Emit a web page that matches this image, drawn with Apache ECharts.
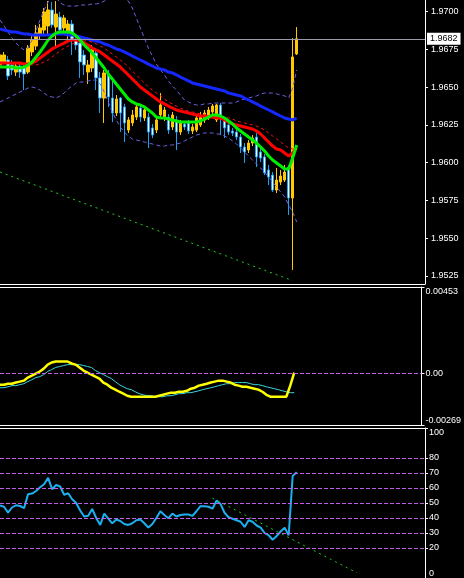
<!DOCTYPE html>
<html>
<head>
<meta charset="utf-8">
<script src="https://cdn.jsdelivr.net/npm/echarts@6/dist/echarts.min.js"></script>
<style>
html, body { margin: 0; padding: 0; background: #000; }
#chart { width: 464px; height: 578px; }
</style>
</head>
<body>
<div id="chart"></div>
<script>
// bar slots across the plot (data fills the first 75, the rest is the empty shift area)
const slotCount = 107
const slots = Array.from({ length: slotCount }, (_, i) => i)

// [open, close, low, high]
const ohlc = [
  [1.96647,1.96713,1.96627,1.96746],[1.96667,1.96713,1.96653,1.96733],[1.96680,1.96574,1.96547,1.96706],
  [1.96647,1.96614,1.96581,1.96680],[1.96600,1.96640,1.96574,1.96667],[1.96640,1.96600,1.96561,1.96667],
  [1.96627,1.96587,1.96481,1.96653],[1.96600,1.96759,1.96587,1.96779],[1.96733,1.96812,1.96706,1.96839],
  [1.96772,1.96859,1.96746,1.96912],[1.96845,1.96892,1.96812,1.96918],[1.96878,1.96998,1.96839,1.97024],
  [1.96905,1.97011,1.96839,1.97070],[1.97011,1.96912,1.96892,1.97064],[1.96898,1.96984,1.96759,1.97070],
  [1.96964,1.96878,1.96852,1.96998],[1.96892,1.96958,1.96865,1.96978],[1.96865,1.96918,1.96812,1.96945],
  [1.96918,1.96812,1.96713,1.96945],[1.96812,1.96779,1.96746,1.96845],[1.96792,1.96667,1.96561,1.96812],
  [1.96713,1.96647,1.96581,1.96746],[1.96600,1.96647,1.96521,1.96680],[1.96627,1.96746,1.96600,1.96779],
  [1.96726,1.96561,1.96481,1.96759],[1.96561,1.96428,1.96329,1.96600],[1.96428,1.96594,1.96263,1.96614],
  [1.96581,1.96435,1.96369,1.96614],[1.96428,1.96329,1.96269,1.96567],[1.96329,1.96422,1.96309,1.96448],
  [1.96428,1.96329,1.96203,1.96435],[1.96369,1.96263,1.96137,1.96389],[1.96216,1.96283,1.96196,1.96302],
  [1.96263,1.96316,1.96243,1.96349],[1.96302,1.96369,1.96283,1.96389],[1.96362,1.96302,1.96269,1.96382],
  [1.96296,1.96349,1.96276,1.96375],[1.96302,1.96203,1.96097,1.96329],[1.96230,1.96183,1.96163,1.96256],
  [1.96216,1.96283,1.96196,1.96302],[1.96316,1.96382,1.96296,1.96461],[1.96296,1.96349,1.96276,1.96369],
  [1.96302,1.96216,1.96190,1.96322],[1.96236,1.96316,1.96216,1.96336],[1.96283,1.96203,1.96084,1.96309],
  [1.96203,1.96263,1.96183,1.96283],[1.96256,1.96236,1.96216,1.96276],[1.96263,1.96210,1.96190,1.96283],
  [1.96210,1.96236,1.96190,1.96256],[1.96216,1.96296,1.96203,1.96316],[1.96250,1.96302,1.96236,1.96336],
  [1.96283,1.96329,1.96263,1.96349],[1.96309,1.96349,1.96283,1.96369],[1.96336,1.96375,1.96322,1.96389],
  [1.96283,1.96382,1.96269,1.96389],[1.96382,1.96296,1.96183,1.96395],[1.96283,1.96230,1.96163,1.96302],
  [1.96250,1.96203,1.96183,1.96269],[1.96210,1.96196,1.96176,1.96230],[1.96203,1.96170,1.96150,1.96230],
  [1.96170,1.96104,1.96064,1.96190],[1.96104,1.96071,1.95998,1.96130],[1.96084,1.96130,1.96064,1.96150],
  [1.96130,1.96163,1.96110,1.96183],[1.96170,1.96038,1.95971,1.96196],[1.96071,1.96031,1.96005,1.96097],
  [1.96038,1.95932,1.95918,1.96057],[1.95952,1.95905,1.95852,1.95985],[1.95918,1.95819,1.95806,1.95938],
  [1.95819,1.95885,1.95799,1.95965],[1.95872,1.95912,1.95852,1.95952],[1.95885,1.95938,1.95872,1.95985],
  [1.95971,1.95766,1.95654,1.95985],[1.95766,1.96700,1.95290,1.96825],[1.96720,1.96820,1.96713,1.96898]
]

const maSlow = [
  1.96885,1.96878,1.96872,1.96865,1.96865,1.96859,1.96852,1.96852,1.96845,1.96845,
  1.96845,1.96845,1.96845,1.96845,1.96852,1.96852,1.96852,1.96845,1.96845,1.96839,
  1.96832,1.96825,1.96819,1.96812,1.96806,1.96799,1.96786,1.96779,1.96766,1.96753,
  1.96746,1.96733,1.96720,1.96706,1.96693,1.96680,1.96667,1.96653,1.96640,1.96627,
  1.96620,1.96614,1.96600,1.96594,1.96581,1.96567,1.96554,1.96541,1.96528,1.96521,
  1.96514,1.96508,1.96501,1.96494,1.96488,1.96481,1.96475,1.96461,1.96455,1.96448,
  1.96442,1.96428,1.96415,1.96402,1.96389,1.96375,1.96362,1.96349,1.96336,1.96322,
  1.96309,1.96296,1.96289,1.96283,1.96296
]

const maMid = [
  1.96660,1.96660,1.96660,1.96660,1.96660,1.96660,1.96653,1.96653,1.96660,1.96673,
  1.96693,1.96713,1.96733,1.96753,1.96766,1.96779,1.96792,1.96806,1.96812,1.96812,
  1.96806,1.96792,1.96779,1.96759,1.96746,1.96733,1.96713,1.96693,1.96673,1.96653,
  1.96633,1.96607,1.96581,1.96554,1.96528,1.96501,1.96481,1.96461,1.96442,1.96422,
  1.96402,1.96389,1.96375,1.96362,1.96349,1.96342,1.96336,1.96329,1.96322,1.96316,
  1.96309,1.96309,1.96302,1.96302,1.96296,1.96296,1.96283,1.96269,1.96256,1.96250,
  1.96243,1.96236,1.96230,1.96223,1.96210,1.96190,1.96163,1.96137,1.96110,1.96091,
  1.96084,1.96064,1.96044,1.96064,1.96097
]

const maMidLag = [
  1.96660,1.96660,1.96660,1.96653,1.96653,1.96653,1.96653,1.96647,1.96647,1.96647,
  1.96653,1.96667,1.96680,1.96700,1.96720,1.96739,1.96759,1.96772,1.96786,1.96799,
  1.96806,1.96806,1.96806,1.96799,1.96786,1.96772,1.96759,1.96739,1.96720,1.96700,
  1.96680,1.96660,1.96633,1.96607,1.96581,1.96554,1.96528,1.96501,1.96481,1.96461,
  1.96442,1.96422,1.96402,1.96389,1.96375,1.96362,1.96349,1.96342,1.96336,1.96329,
  1.96322,1.96316,1.96316,1.96309,1.96309,1.96302,1.96302,1.96296,1.96289,1.96276,
  1.96269,1.96263,1.96256,1.96250,1.96243,1.96230,1.96216,1.96197,1.96177,1.96157,
  1.96137,1.96117,1.96097,1.96091,1.96097
]

const maFast = [
  1.96633,1.96633,1.96633,1.96633,1.96627,1.96627,1.96633,1.96647,1.96667,1.96700,
  1.96733,1.96772,1.96812,1.96839,1.96859,1.96865,1.96865,1.96865,1.96859,1.96839,
  1.96812,1.96779,1.96753,1.96726,1.96693,1.96660,1.96627,1.96587,1.96554,1.96521,
  1.96488,1.96455,1.96422,1.96402,1.96389,1.96382,1.96369,1.96349,1.96329,1.96302,
  1.96296,1.96296,1.96289,1.96283,1.96276,1.96269,1.96269,1.96269,1.96269,1.96269,
  1.96276,1.96289,1.96302,1.96316,1.96316,1.96309,1.96296,1.96276,1.96256,1.96230,
  1.96210,1.96190,1.96170,1.96150,1.96130,1.96104,1.96077,1.96044,1.96018,1.95998,
  1.95978,1.95958,1.95958,1.96031,1.96117
]

const bandUpper = [
  1.96945,1.96905,1.96865,1.96825,1.96792,1.96766,1.96746,1.96759,1.96812,1.96878,
  1.96945,1.97011,1.97064,1.97097,1.97097,1.97057,1.97044,1.97037,1.97037,1.97037,
  1.97044,1.97044,1.97044,1.97051,1.97051,1.97057,1.97070,1.97084,1.97097,1.97103,
  1.97097,1.97084,1.97070,1.97024,1.96958,1.96892,1.96825,1.96759,1.96706,1.96653,
  1.96614,1.96581,1.96541,1.96508,1.96481,1.96448,1.96415,1.96402,1.96389,1.96382,
  1.96382,1.96389,1.96389,1.96395,1.96395,1.96395,1.96395,1.96395,1.96395,1.96402,
  1.96415,1.96422,1.96428,1.96435,1.96442,1.96455,1.96461,1.96461,1.96461,1.96455,
  1.96448,1.96442,1.96428,1.96494,1.96614
]

const bandLower = [
  1.96402,1.96415,1.96428,1.96442,1.96455,1.96468,1.96481,1.96494,1.96501,1.96494,
  1.96481,1.96461,1.96442,1.96435,1.96428,1.96442,1.96461,1.96488,1.96508,1.96528,
  1.96534,1.96534,1.96541,1.96547,1.96547,1.96521,1.96468,1.96402,1.96336,1.96283,
  1.96236,1.96203,1.96177,1.96157,1.96150,1.96144,1.96137,1.96130,1.96124,1.96117,
  1.96110,1.96110,1.96117,1.96117,1.96124,1.96130,1.96144,1.96157,1.96170,1.96183,
  1.96190,1.96197,1.96197,1.96197,1.96190,1.96190,1.96177,1.96163,1.96144,1.96124,
  1.96097,1.96071,1.96044,1.96018,1.95991,1.95965,1.95938,1.95905,1.95872,1.95839,
  1.95806,1.95773,1.95720,1.95674,1.95607
]

const priceTrend = [[0, 1.95938], [73, 1.95219]]
const priceTicks = [1.9525, 1.9550, 1.9575, 1.9600, 1.9625, 1.9650, 1.9675, 1.9700]
const lastPrice = 1.9682

const macdMain = [
  -0.00058,-0.00058,-0.00053,-0.00053,-0.00047,-0.00042,-0.00037,-0.00021,-0.00011,0.00000,
  0.00011,0.00026,0.00047,0.00058,0.00063,0.00063,0.00063,0.00063,0.00053,0.00047,
  0.00032,0.00016,0.00005,-0.00005,-0.00016,-0.00026,-0.00047,-0.00058,-0.00074,-0.00084,
  -0.00095,-0.00105,-0.00116,-0.00121,-0.00121,-0.00121,-0.00121,-0.00121,-0.00121,-0.00121,
  -0.00116,-0.00111,-0.00105,-0.00100,-0.00100,-0.00095,-0.00095,-0.00090,-0.00079,-0.00074,
  -0.00063,-0.00058,-0.00053,-0.00047,-0.00042,-0.00037,-0.00037,-0.00042,-0.00047,-0.00058,
  -0.00063,-0.00069,-0.00069,-0.00074,-0.00079,-0.00084,-0.00095,-0.00111,-0.00121,-0.00121,
  -0.00121,-0.00121,-0.00121,-0.00063,0.00005
]

const macdSignal = [
  -0.00074,-0.00074,-0.00069,-0.00063,-0.00063,-0.00058,-0.00053,-0.00042,-0.00032,-0.00021,
  -0.00016,-0.00005,0.00011,0.00021,0.00032,0.00037,0.00042,0.00047,0.00047,0.00047,
  0.00047,0.00042,0.00037,0.00032,0.00016,0.00005,-0.00005,-0.00016,-0.00026,-0.00042,
  -0.00058,-0.00069,-0.00079,-0.00084,-0.00095,-0.00105,-0.00111,-0.00116,-0.00116,-0.00121,
  -0.00121,-0.00121,-0.00116,-0.00116,-0.00111,-0.00105,-0.00105,-0.00100,-0.00100,-0.00095,
  -0.00090,-0.00084,-0.00079,-0.00074,-0.00069,-0.00063,-0.00058,-0.00053,-0.00053,-0.00047,
  -0.00047,-0.00047,-0.00047,-0.00053,-0.00058,-0.00058,-0.00063,-0.00069,-0.00074,-0.00079,
  -0.00084,-0.00090,-0.00095,-0.00100,-0.00100
]
const macdTicks = [-0.00269, 0, 0.00453]

const rsi = [
  48.4,47.5,43.6,47.0,48.5,48.0,46.6,55.9,56.3,58.0,
  60.5,62.5,66.8,59.2,62.0,61.0,55.5,56.5,52.5,50.0,
  45.0,41.0,41.5,46.0,40.0,35.4,43.0,39.6,36.4,39.0,
  38.0,36.0,35.4,36.5,38.5,39.0,36.5,33.6,36.0,40.0,
  44.5,42.0,39.8,42.9,41.0,42.0,42.3,42.3,41.4,44.5,
  47.9,47.9,47.5,46.2,51.6,49.4,43.5,40.5,39.5,38.5,
  37.5,34.0,38.5,37.5,35.0,33.6,30.0,28.5,25.5,28.0,
  31.0,33.6,28.5,68.0,70.6
]
const rsiTrend = [[53, 53.2], [89, 3.5]]
const rsiLevels = [20, 30, 40, 50, 60, 70, 80]
const rsiTicks = [0, 20, 30, 40, 50, 60, 70, 80, 100]

const font = "'Liberation Sans', Arial, sans-serif"
const levelColor = '#c05ee8'

const xBase = {
  type: 'category',
  data: slots,
  boundaryGap: false,
  axisLine: { show: true, onZero: false, lineStyle: { color: '#ffffff', width: 1 } },
  axisTick: { show: false },
  axisLabel: { show: false },
  splitLine: { show: false }
}

const yBase = (gridIndex, min, max, ticks, margin, formatter) => ({
  type: 'value',
  gridIndex,
  position: 'right',
  min,
  max,
  axisLine: { show: true, lineStyle: { color: '#ffffff', width: 1 } },
  axisTick: { show: true, length: 3, customValues: ticks, lineStyle: { color: '#ffffff' } },
  axisLabel: {
    customValues: ticks,
    color: '#ffffff',
    fontSize: 9,
    fontFamily: font,
    margin,
    formatter
  },
  splitLine: { show: false }
})

const lineSeries = (name, data, color, width, type, xi, yi) => ({
  name,
  type: 'line',
  xAxisIndex: xi,
  yAxisIndex: yi,
  data,
  symbol: 'none',
  silent: true,
  z: 3,
  lineStyle: { color, width, type }
})

const chart = echarts.init(document.getElementById('chart'))

const option = {
  backgroundColor: '#000000',
  animation: false,
  grid: [
    { left: 0, right: 39, top: 0, height: 284 },
    { left: 0, right: 39, top: 287, height: 138 },
    { left: 0, right: 39, top: 428, bottom: -5 }
  ],
  xAxis: [
    { ...xBase, gridIndex: 0, position: 'bottom' },
    { ...xBase, gridIndex: 1, position: 'top' },
    { ...xBase, gridIndex: 1, position: 'bottom' },
    { ...xBase, gridIndex: 2, position: 'top' }
  ],
  yAxis: [
    yBase(0, 1.95197, 1.97077, priceTicks, 6, v => v.toFixed(4)),
    {
      ...yBase(1, -0.00269, 0.00453, macdTicks, 4, v => (v === 0 ? '0.00' : v.toFixed(5))),
      axisLabel: {
        customValues: macdTicks, color: '#ffffff', fontSize: 9, fontFamily: font, margin: 4,
        verticalAlignMaxLabel: 'top', verticalAlignMinLabel: 'bottom',
        formatter: v => (v === 0 ? '0.00' : v.toFixed(5))
      }
    },
    {
      ...yBase(2, 0, 100, rsiTicks, 4, v => String(v)),
      axisLabel: {
        customValues: rsiTicks, color: '#ffffff', fontSize: 9, fontFamily: font, margin: 4,
        verticalAlignMaxLabel: 'top', verticalAlignMinLabel: 'bottom'
      }
    }
  ],
  series: [
    {
      name: 'price',
      type: 'candlestick',
      xAxisIndex: 0,
      yAxisIndex: 0,
      data: ohlc,
      barWidth: 3,
      silent: true,
      z: 2,
      itemStyle: {
        color: '#ffc800',
        color0: '#ffffff',
        borderColor: '#ffc800',
        borderColor0: '#1ea0f0',
        borderWidth: 1
      }
    },
    lineSeries('upper', bandUpper, '#6a62e0', 1, [4, 3], 0, 0),
    lineSeries('lower', bandLower, '#6a62e0', 1, [4, 3], 0, 0),
    {
      ...lineSeries('slow', maSlow, '#1428ff', 3, 'solid', 0, 0),
      markLine: {
        silent: true,
        symbol: ['none', 'none'],
        precision: 4,
        lineStyle: { color: '#9a9aaa', width: 1, type: 'solid' },
        label: {
          position: 'end',
          distance: 2,
          formatter: p => Number(p.value).toFixed(4),
          color: '#000000',
          backgroundColor: '#ffffff',
          padding: [2, 3, 1, 3],
          fontSize: 9,
          fontFamily: font
        },
        data: [{ yAxis: lastPrice }]
      }
    },
    lineSeries('midLag', maMidLag, '#ff1010', 1, [3, 3], 0, 0),
    lineSeries('mid', maMid, '#ff0000', 3, 'solid', 0, 0),
    lineSeries('fast', maFast, '#00ee00', 3, 'solid', 0, 0),
    lineSeries('trend', priceTrend, '#22cc22', 1, [2, 4], 0, 0),
    {
      ...lineSeries('signal', macdSignal, '#3ad6e0', 1, 'solid', 1, 1),
      markLine: {
        silent: true,
        symbol: ['none', 'none'],
        label: { show: false },
        lineStyle: { color: levelColor, width: 1, type: [4, 2] },
        data: [{ yAxis: 0 }]
      }
    },
    lineSeries('macd', macdMain, '#ffff00', 2.5, 'solid', 1, 1),
    {
      ...lineSeries('rsi', rsi, '#1cb0f0', 2, 'solid', 3, 2),
      markLine: {
        silent: true,
        symbol: ['none', 'none'],
        label: { show: false },
        lineStyle: { color: levelColor, width: 1, type: [4, 2] },
        data: rsiLevels.map(v => ({ yAxis: v }))
      }
    },
    lineSeries('rsiTrend', rsiTrend, '#22cc22', 1, [2, 4], 3, 2)
  ]
}

chart.setOption(option)
</script>
</body>
</html>
